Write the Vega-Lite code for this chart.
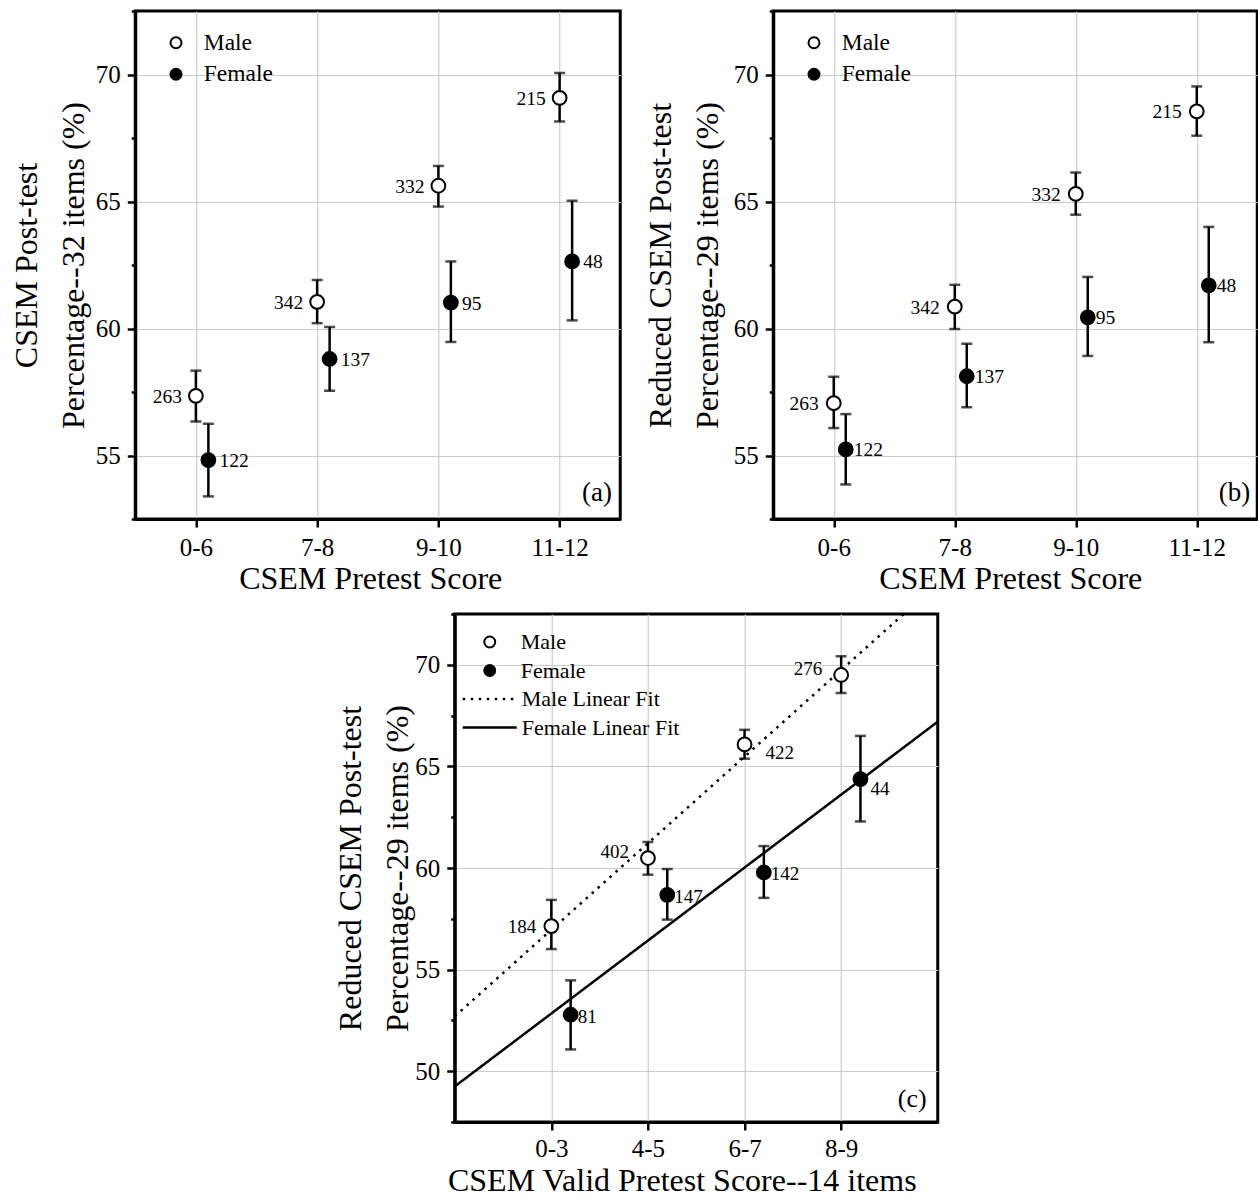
{
  "$schema": "https://vega.github.io/schema/vega-lite/v6.json",
  "background": "white",
  "padding": {"left": 8, "top": 8, "right": 0, "bottom": 0},
  "datasets": {
    "a": [
      {"score": "0-6", "sex": "Male", "mean": 57.35, "lo": 56.34, "hi": 58.34, "n": 263},
      {"score": "7-8", "sex": "Male", "mean": 61.05, "lo": 60.21, "hi": 61.91, "n": 342},
      {"score": "9-10", "sex": "Male", "mean": 65.62, "lo": 64.8, "hi": 66.4, "n": 332},
      {"score": "11-12", "sex": "Male", "mean": 69.08, "lo": 68.15, "hi": 70.06, "n": 215},
      {"score": "0-6", "sex": "Female", "mean": 54.82, "lo": 53.39, "hi": 56.25, "n": 122},
      {"score": "7-8", "sex": "Female", "mean": 58.8, "lo": 57.55, "hi": 60.06, "n": 137},
      {"score": "9-10", "sex": "Female", "mean": 61.02, "lo": 59.47, "hi": 62.64, "n": 95},
      {"score": "11-12", "sex": "Female", "mean": 62.64, "lo": 60.32, "hi": 65.03, "n": 48}
    ],
    "b": [
      {"score": "0-6", "sex": "Male", "mean": 57.06, "lo": 56.08, "hi": 58.1, "n": 263},
      {"score": "7-8", "sex": "Male", "mean": 60.86, "lo": 59.98, "hi": 61.72, "n": 342},
      {"score": "9-10", "sex": "Male", "mean": 65.3, "lo": 64.48, "hi": 66.14, "n": 332},
      {"score": "11-12", "sex": "Male", "mean": 68.55, "lo": 67.59, "hi": 69.53, "n": 215},
      {"score": "0-6", "sex": "Female", "mean": 55.24, "lo": 53.86, "hi": 56.63, "n": 122},
      {"score": "7-8", "sex": "Female", "mean": 58.12, "lo": 56.9, "hi": 59.4, "n": 137},
      {"score": "9-10", "sex": "Female", "mean": 60.44, "lo": 58.92, "hi": 62.03, "n": 95},
      {"score": "11-12", "sex": "Female", "mean": 61.7, "lo": 59.46, "hi": 64.0, "n": 48}
    ],
    "c": [
      {"score": "0-3", "sex": "Male", "mean": 57.14, "lo": 56.01, "hi": 58.43, "n": 184, "pos": "left"},
      {"score": "4-5", "sex": "Male", "mean": 60.49, "lo": 59.67, "hi": 61.28, "n": 402, "pos": "upper left"},
      {"score": "6-7", "sex": "Male", "mean": 66.08, "lo": 65.38, "hi": 66.8, "n": 422, "pos": "lower right"},
      {"score": "8-9", "sex": "Male", "mean": 69.5, "lo": 68.61, "hi": 70.42, "n": 276, "pos": "upper left"},
      {"score": "0-3", "sex": "Female", "mean": 52.78, "lo": 51.07, "hi": 54.47, "n": 81, "pos": "right"},
      {"score": "4-5", "sex": "Female", "mean": 58.68, "lo": 57.46, "hi": 59.95, "n": 147, "pos": "right"},
      {"score": "6-7", "sex": "Female", "mean": 59.78, "lo": 58.53, "hi": 61.08, "n": 142, "pos": "right"},
      {"score": "8-9", "sex": "Female", "mean": 64.37, "lo": 62.29, "hi": 66.5, "n": 44, "pos": "lower right"}
    ],
    "fits": [
      {"fit": "Male Linear Fit", "x": 0, "y": 52.7},
      {"fit": "Male Linear Fit", "x": 5, "y": 74.0},
      {"fit": "Female Linear Fit", "x": 0, "y": 49.25},
      {"fit": "Female Linear Fit", "x": 5, "y": 67.2}
    ]
  },
  "center": true,
  "spacing": 15,
  "resolve": {"scale": {"fill": "independent", "strokeDash": "independent", "x": "independent", "y": "independent"}},
  "vconcat": [
    {
      "spacing": 21,
      "resolve": {"scale": {"fill": "independent", "x": "independent", "y": "independent"}},
      "hconcat": [
        {
          "width": 485, "height": 508,
          "data": {"name": "a"},
          "encoding": {
            "x": {"field": "score", "type": "ordinal", "sort": ["0-6", "7-8", "9-10", "11-12"],
              "scale": {"type": "point", "padding": 0.5, "domain": ["0-6", "7-8", "9-10", "11-12"]},
              "axis": {"title": "CSEM Pretest Score", "labelAngle": 0, "grid": true, "labelPadding": 8, "titlePadding": 3, "titleX": 235}}
          },
          "layer": [
            {"transform": [{"filter": "datum.sex === 'Male'"}],
             "mark": {"type": "rule", "color": "black", "strokeWidth": 2.5},
             "encoding": {
               "y": {"field": "lo", "type": "quantitative",
                 "scale": {"domain": [52.5, 72.5], "nice": false, "zero": false},
                 "axis": {"title": ["CSEM Post-test", "Percentage--32 items (%)"], "values": [52.5, 55, 57.5, 60, 62.5, 65, 67.5, 70, 72.5],
                   "labelExpr": "datum.value % 5 === 0 ? datum.label : ''",
                   "tickSize": {"condition": {"test": "datum.value % 5 !== 0", "value": 4}, "value": 8},
                   "gridOpacity": {"condition": {"test": "datum.value % 5 !== 0", "value": 0}, "value": 1},
                   "titleLineHeight": 47, "titlePadding": 5}},
               "y2": {"field": "hi"}}},
            {"transform": [{"filter": "datum.sex === 'Female'"}],
             "mark": {"type": "rule", "color": "black", "strokeWidth": 2.5, "xOffset": 12.5},
             "encoding": {"y": {"field": "lo", "type": "quantitative"}, "y2": {"field": "hi"}}},
            {"transform": [{"filter": "datum.sex === 'Male'"}, {"fold": ["lo", "hi"], "as": ["end", "bound"]}],
             "mark": {"type": "tick", "color": "black", "orient": "horizontal", "size": 11, "thickness": 2.5},
             "encoding": {"y": {"field": "bound", "type": "quantitative"}}},
            {"transform": [{"filter": "datum.sex === 'Female'"}, {"fold": ["lo", "hi"], "as": ["end", "bound"]}],
             "mark": {"type": "tick", "color": "black", "orient": "horizontal", "size": 11, "thickness": 2.5, "xOffset": 12.5},
             "encoding": {"y": {"field": "bound", "type": "quantitative"}}},
            {"transform": [{"filter": "datum.sex === 'Male'"}],
             "mark": {"type": "point", "filled": true, "size": 190, "stroke": "black", "strokeWidth": 2, "opacity": 1},
             "encoding": {"y": {"field": "mean", "type": "quantitative"},
               "fill": {"field": "sex", "type": "nominal", "scale": {"domain": ["Male", "Female"], "range": ["white", "black"]},
                 "legend": {"orient": "none", "legendX": 29, "legendY": 20, "title": null, "symbolSize": 120, "symbolType": "circle", "symbolStrokeColor": "black", "symbolStrokeWidth": 2, "labelFontSize": 23.5, "rowPadding": 6.5, "labelOffset": 16, "padding": 0}}}},
            {"transform": [{"filter": "datum.sex === 'Female'"}],
             "mark": {"type": "point", "filled": true, "size": 190, "stroke": "black", "strokeWidth": 2, "opacity": 1, "xOffset": 12.5},
             "encoding": {"y": {"field": "mean", "type": "quantitative"},
               "fill": {"field": "sex", "type": "nominal"}}},
            {"transform": [{"filter": "datum.sex === 'Male'"}],
             "mark": {"type": "text", "align": "right", "baseline": "middle", "dx": -14, "dy": 1, "fontSize": 19.5},
             "encoding": {"y": {"field": "mean", "type": "quantitative"}, "text": {"field": "n"}}},
            {"transform": [{"filter": "datum.sex === 'Female'"}],
             "mark": {"type": "text", "align": "left", "baseline": "middle", "xOffset": 12.5, "dx": 11, "dy": 1, "fontSize": 19.5},
             "encoding": {"y": {"field": "mean", "type": "quantitative"}, "text": {"field": "n"}}},
            {"data": {"values": [{"panel": "(a)"}]},
             "mark": {"type": "text", "align": "right", "baseline": "middle", "dx": 52.3, "fontSize": 27},
             "encoding": {"x": {"datum": "11-12", "type": "ordinal"}, "y": {"datum": 53.53, "type": "quantitative"}, "text": {"field": "panel"}}}
          ]
        },
        {
          "width": 484, "height": 508,
          "data": {"name": "b"},
          "encoding": {
            "x": {"field": "score", "type": "ordinal", "sort": ["0-6", "7-8", "9-10", "11-12"],
              "scale": {"type": "point", "padding": 0.5, "domain": ["0-6", "7-8", "9-10", "11-12"]},
              "axis": {"title": "CSEM Pretest Score", "labelAngle": 0, "grid": true, "labelPadding": 8, "titlePadding": 3, "titleX": 237}}
          },
          "layer": [
            {"transform": [{"filter": "datum.sex === 'Male'"}],
             "mark": {"type": "rule", "color": "black", "strokeWidth": 2.5},
             "encoding": {
               "y": {"field": "lo", "type": "quantitative",
                 "scale": {"domain": [52.5, 72.5], "nice": false, "zero": false},
                 "axis": {"title": ["Reduced CSEM Post-test", "Percentage--29 items (%)"], "values": [52.5, 55, 57.5, 60, 62.5, 65, 67.5, 70, 72.5],
                   "labelExpr": "datum.value % 5 === 0 ? datum.label : ''",
                   "tickSize": {"condition": {"test": "datum.value % 5 !== 0", "value": 4}, "value": 8},
                   "gridOpacity": {"condition": {"test": "datum.value % 5 !== 0", "value": 0}, "value": 1},
                   "titleLineHeight": 47, "titlePadding": 8.5}},
               "y2": {"field": "hi"}}},
            {"transform": [{"filter": "datum.sex === 'Female'"}],
             "mark": {"type": "rule", "color": "black", "strokeWidth": 2.5, "xOffset": 12},
             "encoding": {"y": {"field": "lo", "type": "quantitative"}, "y2": {"field": "hi"}}},
            {"transform": [{"filter": "datum.sex === 'Male'"}, {"fold": ["lo", "hi"], "as": ["end", "bound"]}],
             "mark": {"type": "tick", "color": "black", "orient": "horizontal", "size": 11, "thickness": 2.5},
             "encoding": {"y": {"field": "bound", "type": "quantitative"}}},
            {"transform": [{"filter": "datum.sex === 'Female'"}, {"fold": ["lo", "hi"], "as": ["end", "bound"]}],
             "mark": {"type": "tick", "color": "black", "orient": "horizontal", "size": 11, "thickness": 2.5, "xOffset": 12},
             "encoding": {"y": {"field": "bound", "type": "quantitative"}}},
            {"transform": [{"filter": "datum.sex === 'Male'"}],
             "mark": {"type": "point", "filled": true, "size": 190, "stroke": "black", "strokeWidth": 2, "opacity": 1},
             "encoding": {"y": {"field": "mean", "type": "quantitative"},
               "fill": {"field": "sex", "type": "nominal", "scale": {"domain": ["Male", "Female"], "range": ["white", "black"]},
                 "legend": {"orient": "none", "legendX": 29, "legendY": 20, "title": null, "symbolSize": 120, "symbolType": "circle", "symbolStrokeColor": "black", "symbolStrokeWidth": 2, "labelFontSize": 23.5, "rowPadding": 6.5, "labelOffset": 16, "padding": 0}}}},
            {"transform": [{"filter": "datum.sex === 'Female'"}],
             "mark": {"type": "point", "filled": true, "size": 190, "stroke": "black", "strokeWidth": 2, "opacity": 1, "xOffset": 12},
             "encoding": {"y": {"field": "mean", "type": "quantitative"},
               "fill": {"field": "sex", "type": "nominal"}}},
            {"transform": [{"filter": "datum.sex === 'Male'"}],
             "mark": {"type": "text", "align": "right", "baseline": "middle", "dx": -15, "dy": 1, "fontSize": 19.5},
             "encoding": {"y": {"field": "mean", "type": "quantitative"}, "text": {"field": "n"}}},
            {"transform": [{"filter": "datum.sex === 'Female'"}],
             "mark": {"type": "text", "align": "left", "baseline": "middle", "xOffset": 12, "dx": 8, "dy": 1, "fontSize": 19.5},
             "encoding": {"y": {"field": "mean", "type": "quantitative"}, "text": {"field": "n"}}},
            {"data": {"values": [{"panel": "(b)"}]},
             "mark": {"type": "text", "align": "right", "baseline": "middle", "dx": 53.5, "fontSize": 27},
             "encoding": {"x": {"datum": "11-12", "type": "ordinal"}, "y": {"datum": 53.53, "type": "quantitative"}, "text": {"field": "panel"}}}
          ]
        }
      ]
    },
    {
      "width": 483, "height": 508,
      "resolve": {"scale": {"x": "independent"}},
      "layer": [
        {"data": {"name": "fits"},
         "mark": {"type": "line", "color": "black", "strokeWidth": 2.5, "clip": true, "strokeCap": "butt"},
         "encoding": {
           "x": {"field": "x", "type": "quantitative", "scale": {"domain": [0, 5], "nice": false, "zero": false}, "axis": null},
           "y": {"field": "y", "type": "quantitative"},
           "strokeDash": {"field": "fit", "type": "nominal",
             "scale": {"domain": ["Male Linear Fit", "Female Linear Fit"], "range": [[2.5, 5.5], [1, 0]]},
             "legend": {"orient": "none", "legendX": 24, "legendY": 74, "title": null, "symbolType": "M-5.4,0H5.4", "symbolSize": 100, "symbolStrokeColor": "black", "symbolStrokeWidth": 2.5, "labelFontSize": 22, "rowPadding": 6.5, "labelOffset": 21, "padding": 0}}}},
        {"data": {"name": "c"},
         "encoding": {
           "x": {"field": "score", "type": "ordinal", "sort": ["0-3", "4-5", "6-7", "8-9"],
             "scale": {"type": "point", "padding": 1, "domain": ["0-3", "4-5", "6-7", "8-9"]},
             "axis": {"title": "CSEM Valid Pretest Score--14 items", "labelAngle": 0, "grid": true, "labelPadding": 6, "titlePadding": 4, "titleX": 227}}
         },
         "layer": [
           {"transform": [{"filter": "datum.sex === 'Male'"}],
            "mark": {"type": "rule", "color": "black", "strokeWidth": 2.5},
            "encoding": {
              "y": {"field": "lo", "type": "quantitative",
                "scale": {"domain": [47.5, 72.5], "nice": false, "zero": false},
                "axis": {"title": ["Reduced CSEM Post-test", "Percentage--29 items (%)"], "values": [47.5, 50, 52.5, 55, 57.5, 60, 62.5, 65, 67.5, 70, 72.5],
                  "labelExpr": "datum.value % 5 === 0 ? datum.label : ''",
                  "tickSize": {"condition": {"test": "datum.value % 5 !== 0", "value": 4}, "value": 8},
                  "gridOpacity": {"condition": {"test": "datum.value % 5 !== 0", "value": 0}, "value": 1},
                  "titleLineHeight": 47, "titlePadding": 0}},
              "y2": {"field": "hi"}}},
           {"transform": [{"filter": "datum.sex === 'Female'"}],
            "mark": {"type": "rule", "color": "black", "strokeWidth": 2.5, "xOffset": 19.3},
            "encoding": {"y": {"field": "lo", "type": "quantitative"}, "y2": {"field": "hi"}}},
           {"transform": [{"filter": "datum.sex === 'Male'"}, {"fold": ["lo", "hi"], "as": ["end", "bound"]}],
            "mark": {"type": "tick", "color": "black", "orient": "horizontal", "size": 11, "thickness": 2.5},
            "encoding": {"y": {"field": "bound", "type": "quantitative"}}},
           {"transform": [{"filter": "datum.sex === 'Female'"}, {"fold": ["lo", "hi"], "as": ["end", "bound"]}],
            "mark": {"type": "tick", "color": "black", "orient": "horizontal", "size": 11, "thickness": 2.5, "xOffset": 19.3},
            "encoding": {"y": {"field": "bound", "type": "quantitative"}}},
           {"transform": [{"filter": "datum.sex === 'Male'"}],
            "mark": {"type": "point", "filled": true, "size": 190, "stroke": "black", "strokeWidth": 2, "opacity": 1},
            "encoding": {"y": {"field": "mean", "type": "quantitative"},
              "fill": {"field": "sex", "type": "nominal", "scale": {"domain": ["Male", "Female"], "range": ["white", "black"]},
                "legend": {"orient": "none", "legendX": 24, "legendY": 17, "title": null, "symbolSize": 120, "symbolType": "circle", "symbolStrokeColor": "black", "symbolStrokeWidth": 2, "labelFontSize": 22, "rowPadding": 6.5, "labelOffset": 20, "padding": 0}}}},
           {"transform": [{"filter": "datum.sex === 'Female'"}],
            "mark": {"type": "point", "filled": true, "size": 190, "stroke": "black", "strokeWidth": 2, "opacity": 1, "xOffset": 19.3},
            "encoding": {"y": {"field": "mean", "type": "quantitative"},
              "fill": {"field": "sex", "type": "nominal"}}},
           {"transform": [{"filter": "datum.sex === 'Male' && datum.pos === 'left'"}],
            "mark": {"type": "text", "align": "right", "baseline": "middle", "dx": -15, "dy": 1, "fontSize": 19},
            "encoding": {"y": {"field": "mean", "type": "quantitative"}, "text": {"field": "n"}}},
           {"transform": [{"filter": "datum.sex === 'Male' && datum.pos === 'upper left'"}],
            "mark": {"type": "text", "align": "right", "baseline": "middle", "dx": -19, "dy": -6, "fontSize": 19},
            "encoding": {"y": {"field": "mean", "type": "quantitative"}, "text": {"field": "n"}}},
           {"transform": [{"filter": "datum.sex === 'Male' && datum.pos === 'lower right'"}],
            "mark": {"type": "text", "align": "left", "baseline": "middle", "dx": 21, "dy": 9, "fontSize": 19},
            "encoding": {"y": {"field": "mean", "type": "quantitative"}, "text": {"field": "n"}}},
           {"transform": [{"filter": "datum.sex === 'Female' && datum.pos === 'right'"}],
            "mark": {"type": "text", "align": "left", "baseline": "middle", "xOffset": 19.3, "dx": 7, "dy": 2, "fontSize": 19},
            "encoding": {"y": {"field": "mean", "type": "quantitative"}, "text": {"field": "n"}}},
           {"transform": [{"filter": "datum.sex === 'Female' && datum.pos === 'lower right'"}],
            "mark": {"type": "text", "align": "left", "baseline": "middle", "xOffset": 19.3, "dx": 10, "dy": 10, "fontSize": 19},
            "encoding": {"y": {"field": "mean", "type": "quantitative"}, "text": {"field": "n"}}},
           {"data": {"values": [{"panel": "(c)"}]},
            "mark": {"type": "text", "align": "right", "baseline": "middle", "dx": 85.5, "fontSize": 26},
            "encoding": {"x": {"datum": "8-9", "type": "ordinal"}, "y": {"datum": 48.61, "type": "quantitative"}, "text": {"field": "panel"}}}
         ]
        }
      ]
    }
  ],
  "config": {
    "font": "Liberation Serif",
    "view": {"stroke": "black", "strokeWidth": 3},
    "text": {"font": "Liberation Serif", "color": "black"},
    "axis": {
      "labelFont": "Liberation Serif", "titleFont": "Liberation Serif",
      "labelFontSize": 25, "titleFontSize": 32, "titleFontWeight": "normal",
      "labelColor": "black", "titleColor": "black",
      "domainColor": "black", "domainWidth": 3,
      "tickColor": "black", "tickWidth": 2.5, "tickSize": 8,
      "gridColor": "#cccccc", "gridWidth": 1.2, "labelPadding": 7
    },
    "legend": {"labelFont": "Liberation Serif", "labelColor": "black"}
  }
}
